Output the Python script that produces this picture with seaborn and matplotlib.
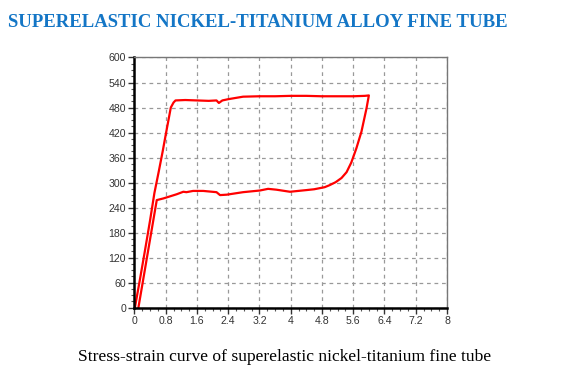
import pandas as pd
import matplotlib
matplotlib.use("Agg")
import matplotlib.pyplot as plt
from matplotlib.ticker import MultipleLocator, AutoMinorLocator, FuncFormatter
import seaborn as sns

# loading branch: elastic rise then upper plateau
load_strain = [0.01, 0.14, 0.27, 0.40, 0.51, 0.62, 0.72, 0.81, 0.93, 1.00, 1.05,
               1.3, 1.6, 1.9, 2.1, 2.16, 2.25, 2.4, 2.78, 3.2, 3.6, 4.0, 4.4,
               4.8, 5.2, 5.6, 5.9, 6.0]
load_stress = [0, 68, 138, 210, 275, 326, 374, 420, 480, 492, 497,
               498, 497, 496, 497, 491, 497, 500, 506, 507, 507, 508, 508,
               507, 507, 507, 508, 509]

# unloading branch: drop, lower plateau, elastic return
unload_strain = [5.94, 5.81, 5.68, 5.55, 5.43, 5.30, 5.15, 5.00, 4.87, 4.6, 4.4, 3.98,
                 3.63, 3.42, 3.21, 2.78, 2.36, 2.19, 2.10, 1.76, 1.50, 1.33,
                 1.25, 1.08, 0.74, 0.57, 0.1]
unload_stress = [478, 422, 382, 348, 325, 311, 301, 294, 289, 284, 282, 278,
                 283, 285, 281, 277, 271, 270, 277, 280, 280, 277,
                 278, 272, 262, 258, 0]

df = pd.DataFrame({
    "strain": load_strain + unload_strain,
    "stress": load_stress + unload_stress,
})

sns.set_style("white")
plt.rcParams['font.family'] = ['Liberation Sans', 'DejaVu Sans']

fig = plt.figure(figsize=(5.74, 3.75), dpi=100)
ax = fig.add_axes([0.2343, 0.1795, 0.5444, 0.6672])

sns.lineplot(data=df, x="strain", y="stress", sort=False, estimator=None,
             color="#ff0000", linewidth=1.6, ax=ax)

ax.set_xlim(0, 8)
ax.set_ylim(0, 600)
ax.xaxis.set_major_locator(MultipleLocator(0.8))
ax.yaxis.set_major_locator(MultipleLocator(60))
ax.xaxis.set_minor_locator(AutoMinorLocator(4))
ax.yaxis.set_minor_locator(AutoMinorLocator(4))
ax.xaxis.set_major_formatter(FuncFormatter(lambda v, p: f"{v:.1f}".rstrip('0').rstrip('.')))

ax.grid(True, which="major", color="#999999", linestyle=(0, (3, 3)), linewidth=0.9)
ax.tick_params(which="major", direction="out", length=4, width=1, color="#333333",
               labelsize=7.6, labelcolor="#333333", pad=2, bottom=True, left=True)
ax.tick_params(which="minor", direction="out", length=2, width=0.8, color="#555555",
               bottom=True, left=True)

for side in ["left", "bottom"]:
    ax.spines[side].set_color("black")
    ax.spines[side].set_linewidth(1.8)
for side in ["top", "right"]:
    ax.spines[side].set_color("#777777")
    ax.spines[side].set_linewidth(1.0)

ax.set_xlabel("")
ax.set_ylabel("")

fig.text(0.45, 0.94, "SUPERELASTIC NICKEL-TITANIUM ALLOY FINE TUBE",
         family=["Liberation Serif", "DejaVu Serif"], weight="bold",
         fontsize=13.5, color="#1476c6", ha="center", va="center")
fig.text(0.495, 0.048, "Stress-strain curve of superelastic nickel-titanium fine tube",
         family=["Liberation Serif", "DejaVu Serif"], fontsize=12.6,
         color="black", ha="center", va="center")

fig.savefig("out.png", dpi=100)
